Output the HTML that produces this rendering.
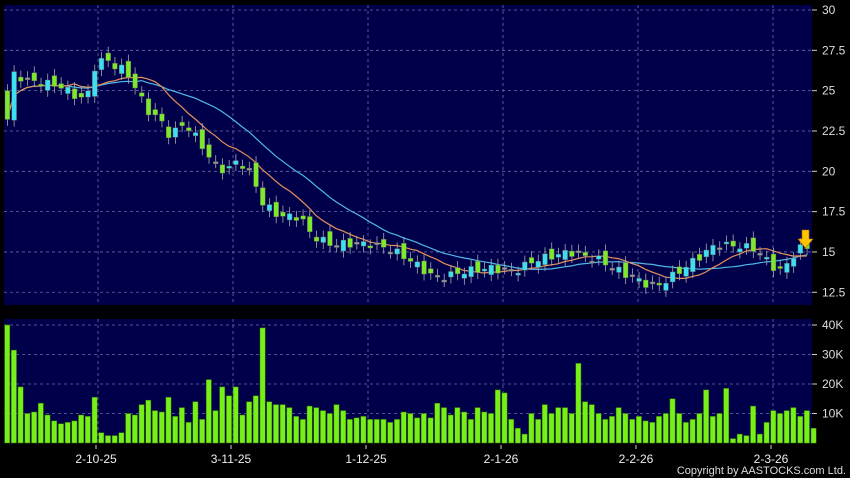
<!DOCTYPE html>
<html><head><meta charset="utf-8"><style>
body{margin:0;background:#000;width:850px;height:478px;overflow:hidden;font-family:"Liberation Sans",sans-serif}
</style></head><body>
<svg id="s" width="850" height="478" xmlns="http://www.w3.org/2000/svg" style="display:block">
<rect width="850" height="478" fill="#000"/>
<rect x="4" y="5" width="808" height="300" fill="#00004a"/>
<rect x="4" y="319" width="808" height="124" fill="#00004a"/>
<g id="g"></g>
</svg>
<script>
const s=document.getElementById('g');let h='';
const py=p=>10+(30-p)*16.13, vy=v=>443-v*2.95;
// grid
[30,27.5,25,22.5,20,17.5,15,12.5].forEach(p=>{const y=py(p);h+=`<line x1="4" x2="812" y1="${y}" y2="${y}" stroke="#6a6aa0" stroke-dasharray="3,3" stroke-width="0.8"/><line x1="812" x2="817" y1="${y}" y2="${y}" stroke="#ccc"/><text x="822" y="${y+4}" fill="#ddd" font-size="12">${p}</text>`});
[40,30,20,10].forEach(v=>{const y=vy(v);h+=`<line x1="4" x2="812" y1="${y}" y2="${y}" stroke="#6a6aa0" stroke-dasharray="3,3" stroke-width="0.8"/><line x1="812" x2="817" y1="${y}" y2="${y}" stroke="#ccc"/><text x="822" y="${y+4}" fill="#ddd" font-size="12">${v}K</text>`});
const dx=[98,233,368,503,638,773],dl=['2-10-25','3-11-25','1-12-25','2-1-26','2-2-26','2-3-26'];
dx.forEach((x,i)=>{h+=`<line x1="${x}" x2="${x}" y1="5" y2="305" stroke="#6a6aa0" stroke-dasharray="3,3" stroke-width="0.8"/><line x1="${x}" x2="${x}" y1="319" y2="443" stroke="#6a6aa0" stroke-dasharray="3,3" stroke-width="0.8"/><line x1="${x-2}" x2="${x-2}" y1="445" y2="449" stroke="#ccc"/><text x="${x-2}" y="463" fill="#eee" font-size="12" text-anchor="middle">${dl[i]}</text>`});
const K=[[7,23],[14,26],[30,25.6],[60,25.3],[80,24.5],[88,24.8],[95,26.5],[105,27],[118,26.4],[125,26.3],[133,25.5],[147,23.8],[160,23.2],[170,22.2],[185,23],[200,21.8],[213,20.5],[226,20],[238,20.7],[252,19.8],[263,18],[280,17.2],[300,17.2],[312,16],[330,15.5],[370,15.5],[390,15.2],[410,14.5],[430,13.6],[440,13.4],[465,13.8],[490,14],[515,13.8],[535,14.5],[570,15],[600,14.5],[620,13.8],[640,13.2],[655,12.8],[675,13.6],[695,14.5],[715,15.4],[735,15.4],[755,15.2],[775,14],[782,13.8],[798,15.2],[808,15.3]];
const interp=x=>{for(let i=1;i<K.length;i++){if(x<=K[i][0]){const a=K[i-1],b=K[i];return a[1]+(b[1]-a[1])*(x-a[0])/(b[0]-a[0])}}return K[K.length-1][1]};
const N=120,st=6.72;const C=[];for(let i=0;i<N;i++){const x=7.5+st*i;C.push(interp(x)+Math.sin(i*2.3)*0.25)}
const V=[40,31.5,19,10,10.5,13.5,9.5,7.5,6.5,7,7.5,9.5,9,15.5,3.5,2.5,2.5,3.5,10,9.5,13,14.5,11,10.5,15.5,9,12,7,14,8,21.5,11,19,16,19,9.5,14,16,39,14,13,13,12,9,8,12.5,12,11,10,13,11,8,8.5,9,8,8,8,7,8,10.5,10,8.5,10,8.5,13.5,12,9.5,12,10.5,8,12,10.5,10,18,17,8,5,3,10,8,13,10,12,12,10,27,14,13,10,8,9,12,10,8,9,7.5,7,9,10,15,10,7,8,10,18,9,10,18.5,1.5,3,2.5,12.5,3,7,11,10,11,12,9,11,5];
// volume
V.forEach((v,i)=>{const x=4+st*i+0.6;h+=`<rect x="${x.toFixed(1)}" y="${vy(v).toFixed(1)}" width="5.2" height="${(v*2.95).toFixed(1)}" fill="#77f01a" stroke="#3a7a00" stroke-width="0.5"/>`});
// MAs
const ma=n=>C.map((c,i)=>{let a=0,k=0;for(let j=Math.max(0,i-n+1);j<=i;j++){a+=C[j];k++}return a/k});
const path=(m,col)=>`<polyline fill="none" stroke="${col}" stroke-width="1.2" points="${m.map((v,i)=>(7+st*i).toFixed(1)+','+py(v).toFixed(1)).join(' ')}"/>`;
h+=path(ma(20),'#4fb8e8');h+=path(ma(10),'#e8905a');
// candles
C.forEach((c,i)=>{const o=i?C[i-1]+Math.cos(i*1.7)*0.35:25;const x=4+st*i+1;const top=Math.max(o,c),bot=Math.min(o,c);const col=Math.abs(o-c)<0.1?'#999':(c>o?'#3ee0f0':'#7ee82a');
h+=`<line x1="${x+2.4}" x2="${x+2.4}" y1="${py(top+0.4)}" y2="${py(bot-0.4)}" stroke="#aaa" stroke-width="0.8"/><rect x="${x}" y="${py(top)}" width="4.8" height="${Math.max(2,(top-bot)*16.13)}" fill="${col}" stroke="#666" stroke-width="0.4"/>`});
h+=`<path d="M802,230 h7 v9 h4 l-7.5,9 l-7.5,-9 h4z" fill="#ffc400" stroke="#b07000" stroke-width="0.6"/>`;
h+=`<text x="846" y="474" fill="#ddd" font-size="11" text-anchor="end">Copyright by AASTOCKS.com Ltd.</text>`;
s.innerHTML=h;
</script>
</body></html>
